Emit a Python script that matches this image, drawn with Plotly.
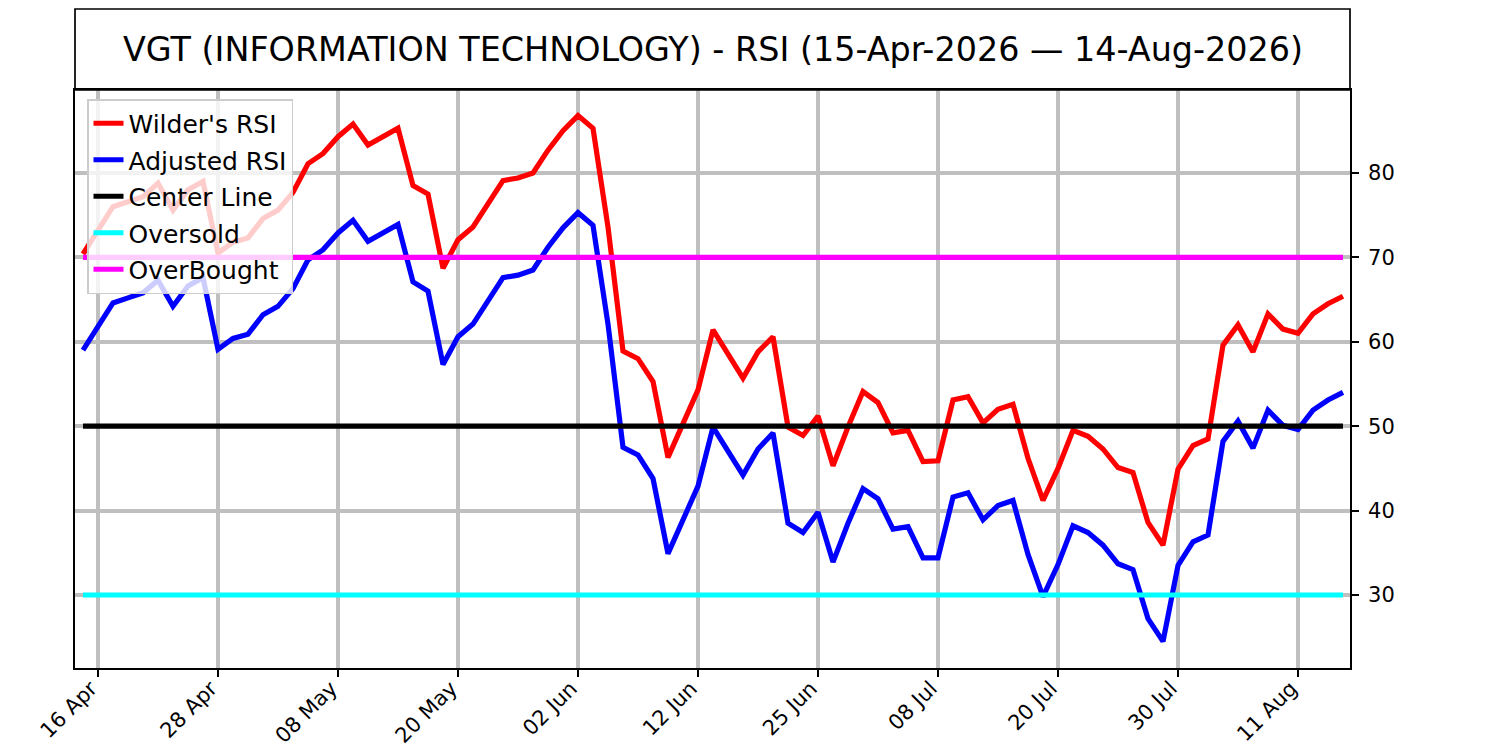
import pandas as pd
import plotly.graph_objects as go

# ---------------- data ----------------
start_date = "2026-04-15"
end_date = "2026-08-14"
market_holidays = ["2026-05-25", "2026-06-19", "2026-07-03"]

wilders_rsi = [
    70.4, 73.2, 76.0, 76.6, 77.2, 78.8, 75.6, 78.0, 79.0, 70.5,
    71.8, 72.3, 74.6, 75.6, 77.7, 81.1, 82.3, 84.3, 85.8, 83.3,
    84.3, 85.3, 78.5, 77.5, 68.7, 72.1, 73.6, 76.3, 79.1, 79.4,
    80.0, 82.7, 85.0, 86.8, 85.3, 73.6, 58.9, 58.0, 55.3, 46.3,
    50.3, 54.3, 61.4, 58.4, 55.7, 58.8, 60.6, 49.9, 48.9, 51.2,
    45.3, 49.9, 54.1, 52.8, 49.2, 49.5, 45.8, 45.9, 53.1, 53.5,
    50.4, 52.0, 52.6, 46.2, 41.2, 45.0, 49.5, 48.8, 47.3, 45.1,
    44.5, 38.6, 35.9, 44.9, 47.7, 48.5, 59.6, 62.0, 58.8, 63.3,
    61.5, 61.0, 63.3, 64.5, 65.4,
]

adjusted_rsi = [
    59.0, 61.8, 64.6, 65.2, 65.8, 67.3, 64.2, 66.6, 67.6, 59.1,
    60.4, 60.9, 63.2, 64.2, 66.3, 69.7, 70.9, 72.9, 74.4, 71.9,
    72.9, 73.9, 67.1, 66.0, 57.3, 60.6, 62.1, 64.8, 67.6, 67.9,
    68.5, 71.2, 73.5, 75.3, 73.8, 62.1, 47.5, 46.6, 43.8, 34.9,
    38.9, 42.9, 49.9, 47.0, 44.2, 47.3, 49.2, 38.5, 37.4, 39.8,
    33.9, 38.5, 42.6, 41.4, 37.8, 38.1, 34.4, 34.4, 41.6, 42.1,
    38.9, 40.6, 41.2, 34.8, 29.8, 33.6, 38.2, 37.4, 35.9, 33.7,
    33.0, 27.2, 24.5, 33.5, 36.3, 37.1, 48.2, 50.6, 47.4, 51.9,
    50.1, 49.6, 51.9, 53.1, 54.0,
]

center_level = 50
oversold_level = 30
overbought_level = 70

tick_dates = ["2026-04-16", "2026-04-28", "2026-05-08", "2026-05-20", "2026-06-02",
              "2026-06-12", "2026-06-25", "2026-07-08", "2026-07-20", "2026-07-30",
              "2026-08-11"]
tick_labels = ["16 Apr", "28 Apr", "08 May", "20 May", "02 Jun", "12 Jun",
               "25 Jun", "08 Jul", "20 Jul", "30 Jul", "11 Aug"]
y_ticks = [30, 40, 50, 60, 70, 80]

title_text = "VGT (INFORMATION TECHNOLOGY) - RSI (15-Apr-2026 \u2014 14-Aug-2026)"

# ---------------- build ----------------
dates = pd.bdate_range(start_date, end_date, freq="C", holidays=market_holidays)
x = [d.strftime("%Y-%m-%d") for d in dates]
n = len(x)

FONT = "DejaVu Sans"
W, H = 1500, 750
ML, MR, MT, MB = 75, 150, 90, 82
plot_h = H - MT - MB
plot_w = W - ML - MR

fig = go.Figure()

series = [
    ("Wilder's RSI", wilders_rsi, "#ff0000"),
    ("Adjusted RSI", adjusted_rsi, "#0000ff"),
    ("Center Line", [center_level] * n, "#000000"),
    ("Oversold", [oversold_level] * n, "#00ffff"),
    ("OverBought", [overbought_level] * n, "#ff00ff"),
]
for i, (name, vals, col) in enumerate(series):
    fig.add_trace(go.Scatter(
        x=x, y=vals, mode="lines", name=name, legendgroup=f"g{i}",
        line=dict(color=col, width=5.2),
        hoverinfo="x+y+name",
    ))

# title box
box_top = 1 + (MT - 9) / plot_h
fig.add_shape(type="rect", xref="paper", yref="paper", x0=0, x1=1, y0=1, y1=box_top,
              line=dict(color="black", width=1.7), fillcolor="rgba(0,0,0,0)", layer="above")
fig.add_annotation(xref="paper", yref="paper", x=0.5, y=1 + (MT - 9) / 2 / plot_h,
                   text=title_text, showarrow=False, xanchor="center", yanchor="middle",
                   font=dict(family=FONT, size=33.4, color="black"))

fig.update_layout(
    width=W, height=H,
    margin=dict(l=ML, r=MR, t=MT, b=MB, autoexpand=False),
    paper_bgcolor="white", plot_bgcolor="white",
    font=dict(family=FONT, color="black"),
    showlegend=True,
    legend=dict(
        x=(87 - ML) / plot_w, y=1 - (99 - MT) / plot_h,
        xanchor="left", yanchor="top",
        bgcolor="rgba(255,255,255,0.8)", bordercolor="#cccccc", borderwidth=1.5,
        font=dict(family=FONT, size=25, color="black"),
        tracegroupgap=1, itemwidth=30,
    ),
    xaxis=dict(
        type="category", range=[-0.533, n - 1 + 0.467],
        tickmode="array", tickvals=tick_dates, ticktext=tick_labels,
        tickangle=-45, tickfont=dict(family=FONT, size=21, color="black"),
        ticks="outside", ticklen=7, tickwidth=1.7, tickcolor="black",
        ticklabelstandoff=-9, ticklabelshift=-7,
        showgrid=True, gridcolor="#bfbfbf", gridwidth=4.4,
        showline=True, linecolor="black", linewidth=1.7, mirror=True,
        zeroline=False, fixedrange=True,
    ),
    yaxis=dict(
        side="right", range=[21.35, 89.83],
        tickmode="array", tickvals=y_ticks,
        tickfont=dict(family=FONT, size=21, color="black"),
        ticks="outside", ticklen=7, tickwidth=1.7, tickcolor="black",
        ticklabelstandoff=5,
        showgrid=True, gridcolor="#bfbfbf", gridwidth=4.4,
        showline=True, linecolor="black", linewidth=1.7, mirror=True,
        zeroline=False, fixedrange=True,
    ),
)

fig.write_html(
    "out.html",
    config={"displayModeBar": False},
    post_script="document.body.style.margin='0';document.body.style.overflow='hidden';",
)
